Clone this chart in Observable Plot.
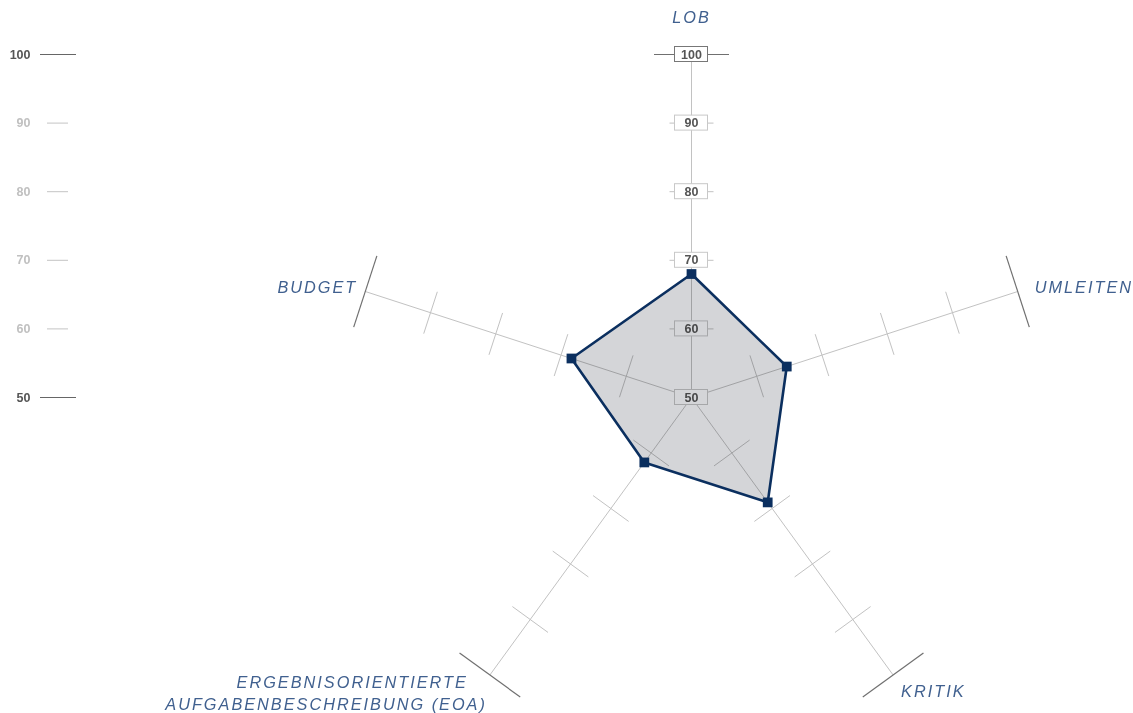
<!DOCTYPE html>
<html>
<head>
<meta charset="utf-8">
<script src="https://cdn.jsdelivr.net/npm/d3@7"></script>
<script src="https://cdn.jsdelivr.net/npm/@observablehq/plot@0.6"></script>
<style>
  html, body { margin: 0; padding: 0; background: #fff; }
  #chart svg { display: block; }
</style>
</head>
<body>
<div id="chart"></div>
<script>
// ---- data ----
const categories = ["LOB", "UMLEITEN", "KRITIK", "ERGEBNISORIENTIERTE AUFGABENBESCHREIBUNG (EOA)", "BUDGET"];
const values = [68, 64.6, 68.9, 61.7, 68.4];
const labelLines = [["LOB"], ["UMLEITEN"], ["KRITIK"], ["ERGEBNISORIENTIERTE", "AUFGABENBESCHREIBUNG (EOA)"], ["BUDGET"]];
const scaleTicks = [50, 60, 70, 80, 90, 100];
const gridTicks = [60, 70, 80, 90];
const vMin = 50, vMax = 100;

// ---- layout ----
const W = 1133, H = 713, cx = 691, cy = 397;
const k = 343 / (vMax - vMin);            // px per unit
const px = d => d / k;                    // pixel length -> data units
const n = categories.length;
const ang = i => Math.PI / 2 - i * 2 * Math.PI / n;
const pt = (i, v) => [(v - vMin) * Math.cos(ang(i)), (v - vMin) * Math.sin(ang(i))];

// label offsets (pixels) from axis end: [dx, dy(down), anchor] per line
const labelLayout = [
  [[0, -37, "middle"]],
  [[17, -4, "start"]],
  [[8, 17, "start"]],
  [[-22, 7.5, "end"], [-3, 29.5, "end"]],
  [[-8, -4, "end"]]
];

const axesData = categories.map((c, i) => {
  const [x2, y2] = pt(i, vMax);
  return {c, x1: 0, y1: 0, x2, y2};
});

const tickData = [];
categories.forEach((c, i) => {
  const a = ang(i), nx = -Math.sin(a), ny = Math.cos(a);
  gridTicks.concat([vMax]).forEach(v => {
    const [x, y] = pt(i, v);
    const h = px(v === vMax ? 37.5 : 22);
    tickData.push({x1: x - nx * h, y1: y - ny * h, x2: x + nx * h, y2: y + ny * h, outer: v === vMax});
  });
});

const polyData = values.map((v, i) => {
  const [x, y] = pt(i, v);
  return {c: categories[i], x, y};
});

const labelData = [];
labelLines.forEach((lines, i) => {
  const [ex, ey] = pt(i, vMax);
  lines.forEach((t, j) => {
    const [dx, dy, anchor] = labelLayout[i][j];
    labelData.push({t, x: ex + px(dx), y: ey - px(dy), anchor});
  });
});

const boxData = scaleTicks.map(v => ({v, y: v - vMin, strong: v === vMax}));
const leftData = scaleTicks.map(v => ({v, y: v - vMin, strong: v === vMin || v === vMax}));

const labelMark = anchor => Plot.text(labelData.filter(d => d.anchor === anchor), {
  x: "x", y: "y", text: "t", textAnchor: anchor, fill: "#40608f",
  fontSize: 16.3, fontStyle: "italic"
});

const chart = Plot.plot({
  width: W,
  height: H,
  margin: 0,
  style: {fontFamily: "'Liberation Sans', Arial, sans-serif", background: "#fff", overflow: "visible"},
  x: {domain: [-cx / k, (W - cx) / k], range: [0, W], axis: null},
  y: {domain: [-(H - cy) / k, cy / k], range: [H, 0], axis: null},
  marks: [
    // left reference scale
    Plot.ruleY(leftData.filter(d => d.strong), {y: "y", x1: px(40 - cx), x2: px(76 - cx), stroke: "#666", strokeWidth: 1}),
    Plot.ruleY(leftData.filter(d => !d.strong), {y: "y", x1: px(47 - cx), x2: px(68 - cx), stroke: "#c4c4c4", strokeWidth: 1}),
    Plot.text(leftData, {x: px(30 - cx), y: "y", text: d => String(d.v), textAnchor: "end",
      fill: d => d.strong ? "#555" : "#c0c0c0", fontWeight: "bold", fontSize: 12.5}),
    // spokes
    Plot.link(axesData, {x1: "x1", y1: "y1", x2: "x2", y2: "y2", stroke: "#c2c2c2", strokeWidth: 1}),
    // tick crosses
    Plot.link(tickData.filter(d => !d.outer), {x1: "x1", y1: "y1", x2: "x2", y2: "y2", stroke: "#c2c2c2", strokeWidth: 1}),
    Plot.link(tickData.filter(d => d.outer), {x1: "x1", y1: "y1", x2: "x2", y2: "y2", stroke: "#707070", strokeWidth: 1.2}),
    // value boxes on the first spoke
    Plot.rect(boxData, {x1: px(-16.5), x2: px(16.5), y1: d => d.y - px(7.5), y2: d => d.y + px(7.5),
      fill: "#fff", stroke: d => d.strong ? "#777" : "#c8c8c8", strokeWidth: 1}),
    Plot.text(boxData, {x: 0, y: "y", text: d => String(d.v), fill: "#555", fontWeight: "bold", fontSize: 12.5}),
    // polygon fill (multiplied over grid)
    Plot.line(polyData, {x: "x", y: "y", curve: "linear-closed", fill: "#d4d5d8", stroke: "none", mixBlendMode: "multiply"}),
    Plot.line(polyData, {x: "x", y: "y", curve: "linear-closed", stroke: "#0b2f5f", strokeWidth: 2.6, strokeLinejoin: "miter"}),
    Plot.dot(polyData, {x: "x", y: "y", symbol: "square", r: 5.5, fill: "#0b2f5f", stroke: "none"}),
    // axis labels
    labelMark("middle"),
    labelMark("start"),
    labelMark("end")
  ]
});

document.getElementById("chart").appendChild(chart);
const labelSet = new Set(labelData.map(d => d.t));
d3.select(chart).selectAll("text")
  .filter(function() { return labelSet.has(this.textContent); })
  .attr("letter-spacing", "2px");
</script>
</body>
</html>
